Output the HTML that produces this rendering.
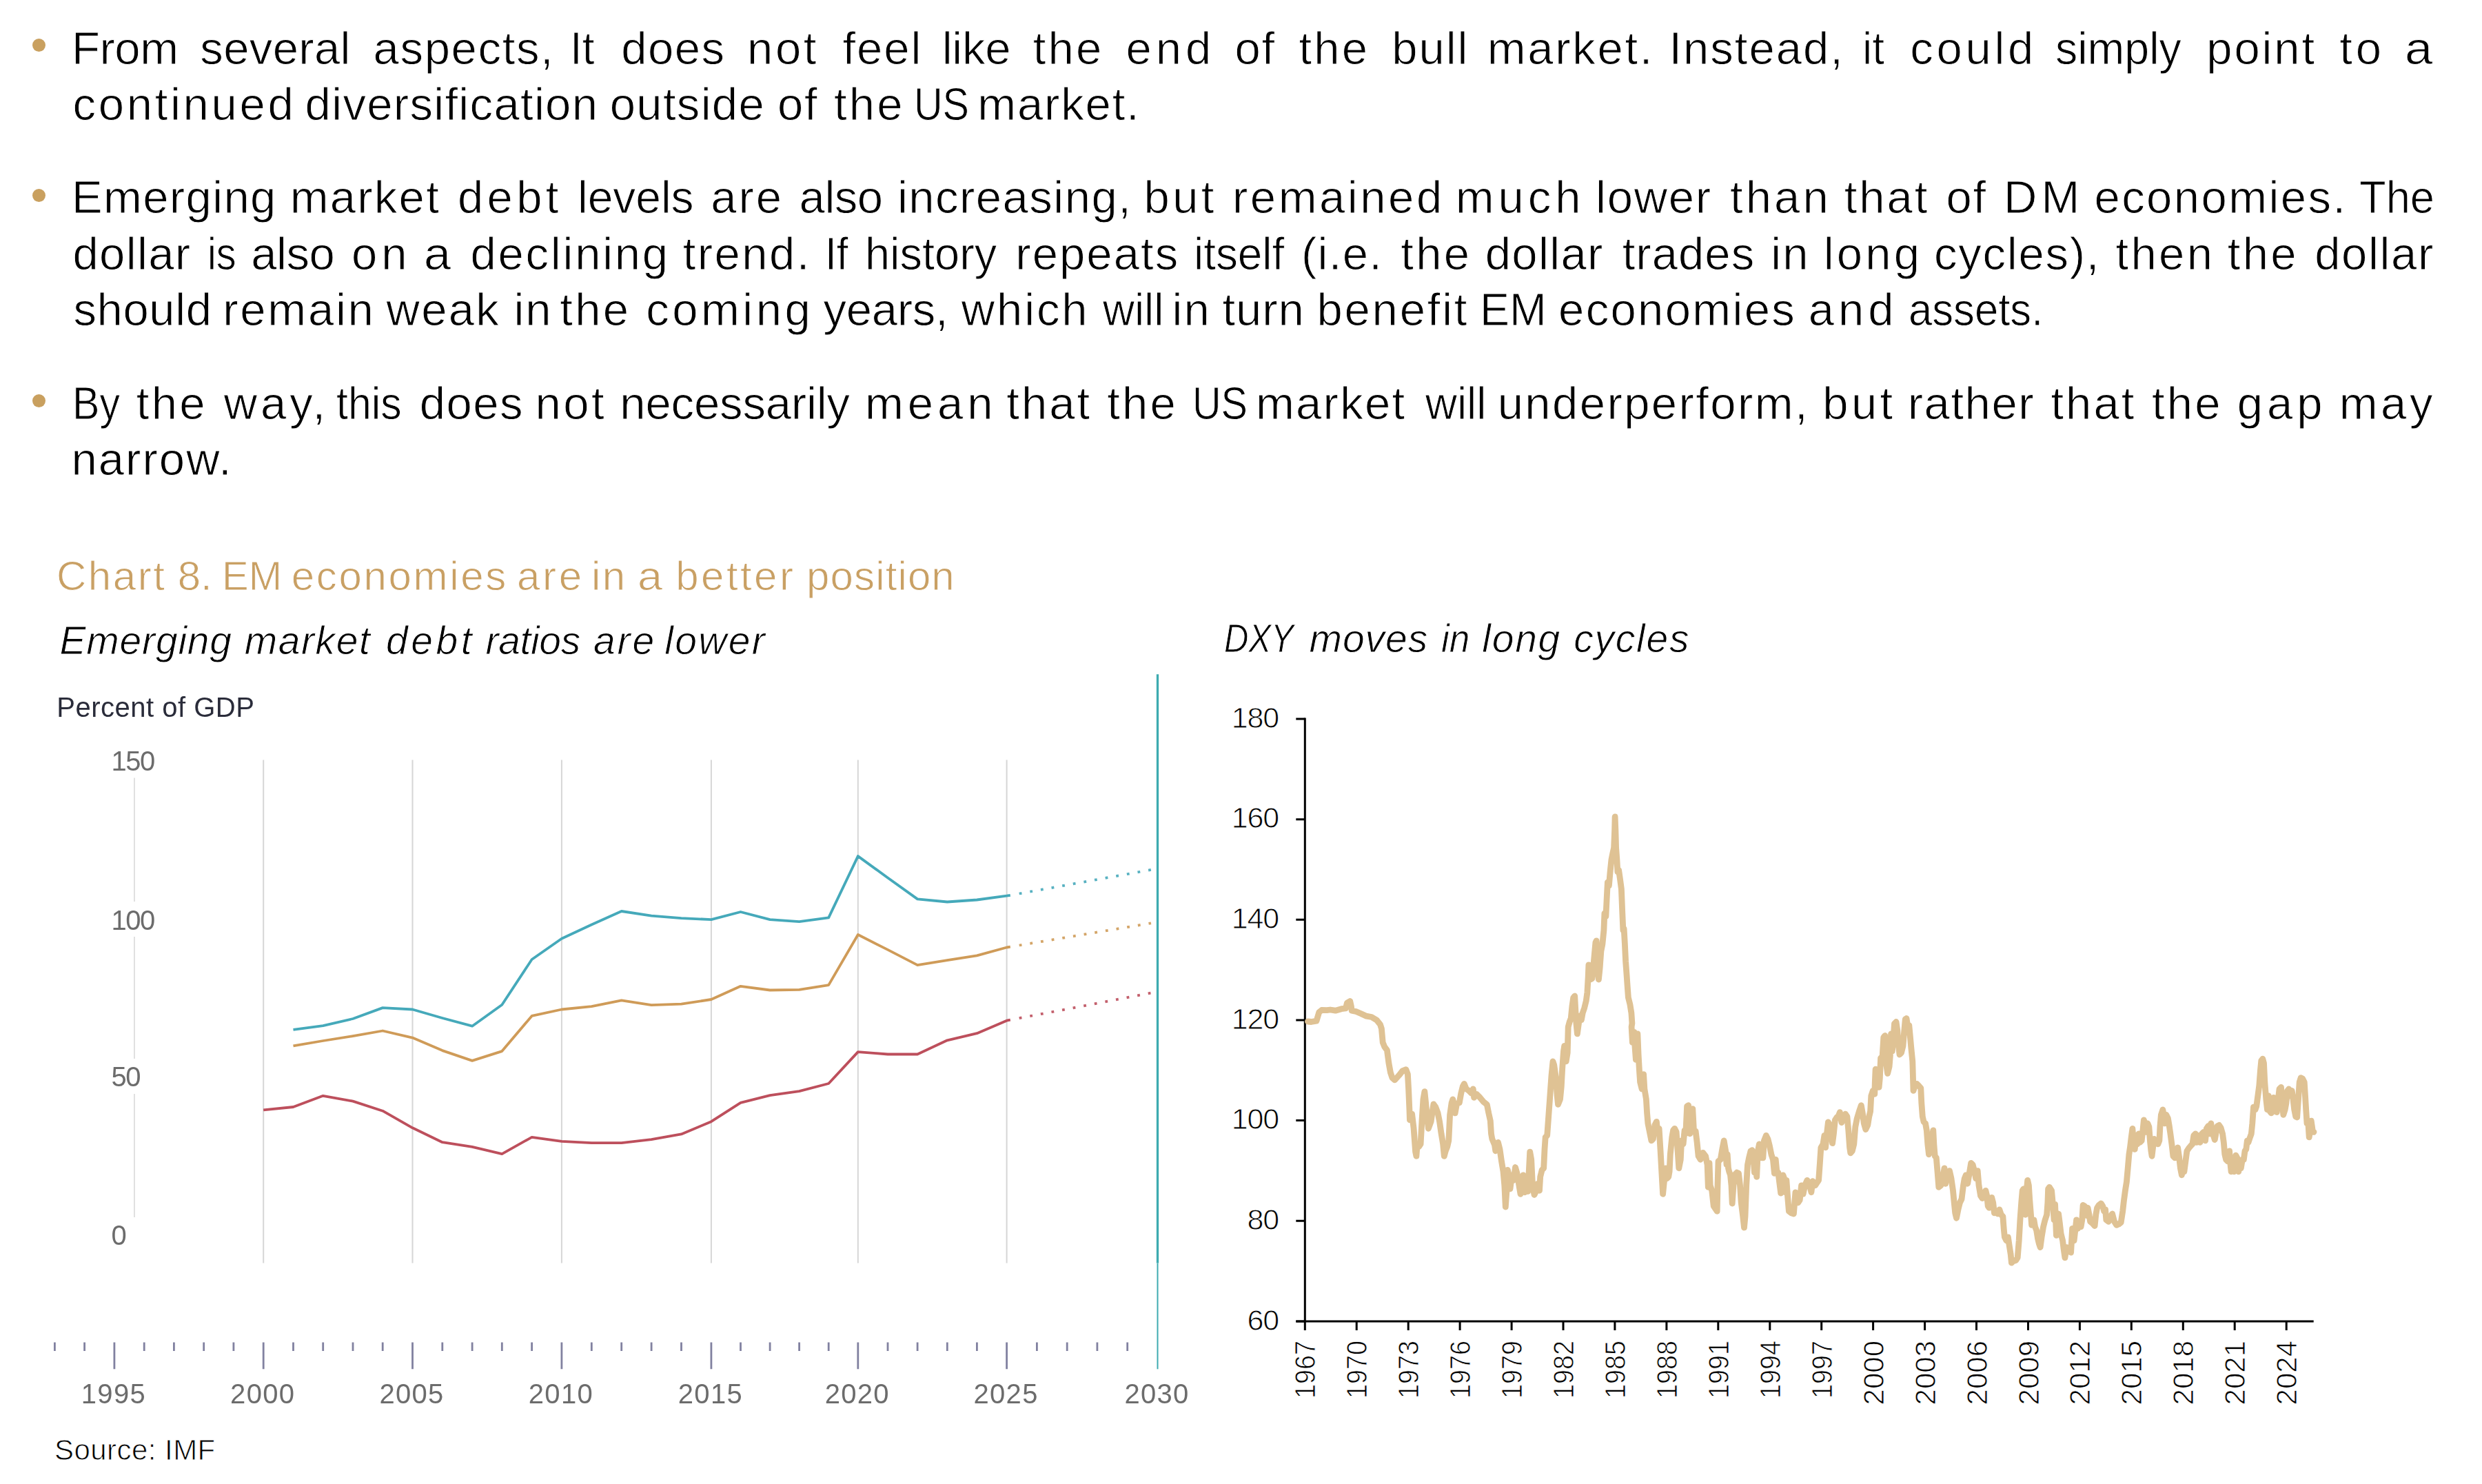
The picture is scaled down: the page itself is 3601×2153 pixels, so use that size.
<!DOCTYPE html>
<html lang="en"><head><meta charset="utf-8"><title>Chart 8. EM economies are in a better position</title>
<style>
html,body{margin:0;padding:0;background:#fff;}
body{width:3601px;height:2153px;position:relative;overflow:hidden;font-family:"Liberation Sans",Arial,Helvetica,sans-serif;}
.t{position:absolute;white-space:nowrap;margin:0;padding:0;}
.ln{position:absolute;left:0;width:3601px;height:67px;font-size:67px;line-height:67px;color:#000;white-space:pre;}
.ln span{position:absolute;top:0;transform-origin:0 50%;}
.b{position:absolute;width:19px;height:19px;border-radius:50%;background:#c9a05f;}
.body{-webkit-text-stroke:0.9px #fff;}
svg{position:absolute;left:0;top:0;}
.yl{font-size:43px;fill:#000;text-anchor:end;letter-spacing:-1.2px;stroke:#fff;stroke-width:0.9px;}
.xl{font-size:42px;fill:#000;text-anchor:end;stroke:#fff;stroke-width:0.9px;}
.gl{font-size:40px;fill:#6c6c6c;}
</style></head><body>
<div class="b" style="left:47.2px;top:55.9px"></div>
<div class="b" style="left:47.2px;top:273.5px"></div>
<div class="b" style="left:47.2px;top:572.0px"></div>
<div class="ln body" style="top:35.78px;"><span style="left:103.9px;letter-spacing:-0.41px">From </span><span style="left:290.3px;letter-spacing:0.36px">several </span><span style="left:541.6px;letter-spacing:1.65px">aspects, </span><span style="left:827.1px;transform:scaleX(0.954)">It </span><span style="left:901.3px;letter-spacing:1.47px">does </span><span style="left:1084.1px;letter-spacing:3.57px">not </span><span style="left:1222.5px;letter-spacing:1.99px">feel </span><span style="left:1366.8px;letter-spacing:-0.31px">like </span><span style="left:1498.7px;letter-spacing:3.23px">the </span><span style="left:1633.6px;letter-spacing:6.00px">end </span><span style="left:1791.5px;letter-spacing:1.75px">of </span><span style="left:1884.4px;letter-spacing:3.23px">the </span><span style="left:2019.3px;letter-spacing:1.92px">bull </span><span style="left:2157.7px;letter-spacing:2.73px">market. </span><span style="left:2421.4px;letter-spacing:2.02px">Instead, </span><span style="left:2701.9px;transform:scaleX(0.954)">it </span><span style="left:2771.2px;letter-spacing:4.74px">could </span><span style="left:2982.0px;transform:scaleX(0.963)">simply </span><span style="left:3201.3px;letter-spacing:2.86px">point </span><span style="left:3394.2px;letter-spacing:5.00px">to </span><span style="left:3488.9px;transform:scaleX(1.081)">a</span></div>
<div class="ln body" style="top:117.28px;"><span style="left:105.4px;letter-spacing:3.74px">continued </span><span style="left:442.6px;letter-spacing:1.32px">diversification </span><span style="left:884.8px;letter-spacing:1.30px">outside </span><span style="left:1128.1px;letter-spacing:1.75px">of </span><span style="left:1210.0px;letter-spacing:3.23px">the </span><span style="left:1325.6px;transform:scaleX(0.860)">US </span><span style="left:1418.3px;letter-spacing:1.84px">market.</span></div>
<div class="ln body" style="top:251.78px;"><span style="left:103.9px;letter-spacing:1.39px">Emerging </span><span style="left:420.7px;letter-spacing:2.26px">market </span><span style="left:664.0px;letter-spacing:5.33px">debt </span><span style="left:837.9px;transform:scaleX(0.984)">levels </span><span style="left:1031.2px;letter-spacing:3.00px">are </span><span style="left:1159.6px;letter-spacing:-0.46px">also </span><span style="left:1301.9px;letter-spacing:1.49px">increasing, </span><span style="left:1659.6px;letter-spacing:4.37px">but </span><span style="left:1788.0px;letter-spacing:3.55px">remained </span><span style="left:2111.8px;letter-spacing:5.94px">much </span><span style="left:2315.1px;letter-spacing:1.74px">lower </span><span style="left:2509.9px;letter-spacing:4.12px">than </span><span style="left:2675.7px;letter-spacing:3.00px">that </span><span style="left:2823.6px;letter-spacing:1.75px">of </span><span style="left:2907.1px;letter-spacing:6.00px">DM </span><span style="left:3038.5px;letter-spacing:2.43px">economies. </span><span style="left:3423.2px;transform:scaleX(0.944)">The</span></div>
<div class="ln body" style="top:333.78px;"><span style="left:105.4px;letter-spacing:1.36px">dollar </span><span style="left:301.4px;transform:scaleX(0.860)">is </span><span style="left:364.2px;letter-spacing:-0.46px">also </span><span style="left:510.1px;letter-spacing:6.00px">on </span><span style="left:614.9px;transform:scaleX(1.048)">a </span><span style="left:682.5px;letter-spacing:2.77px">declining </span><span style="left:990.7px;letter-spacing:2.49px">trend. </span><span style="left:1197.1px;transform:scaleX(0.903)">If </span><span style="left:1255.0px;transform:scaleX(0.969)">history </span><span style="left:1473.3px;letter-spacing:2.06px">repeats </span><span style="left:1731.8px;transform:scaleX(0.953)">itself </span><span style="left:1887.9px;letter-spacing:1.35px">(i.e. </span><span style="left:2032.3px;letter-spacing:3.23px">the </span><span style="left:2154.7px;letter-spacing:1.36px">dollar </span><span style="left:2353.7px;letter-spacing:1.05px">trades </span><span style="left:2569.3px;letter-spacing:1.95px">in </span><span style="left:2645.8px;letter-spacing:4.14px">long </span><span style="left:2806.1px;letter-spacing:1.75px">cycles), </span><span style="left:3069.4px;letter-spacing:3.41px">then </span><span style="left:3231.8px;letter-spacing:3.23px">the </span><span style="left:3358.2px;letter-spacing:1.65px">dollar</span></div>
<div class="ln body" style="top:415.28px;"><span style="left:106.4px;letter-spacing:0.63px">should </span><span style="left:323.2px;letter-spacing:2.78px">remain </span><span style="left:560.6px;letter-spacing:2.24px">weak </span><span style="left:745.4px;letter-spacing:1.95px">in </span><span style="left:812.3px;letter-spacing:3.23px">the </span><span style="left:937.2px;letter-spacing:4.51px">coming </span><span style="left:1194.6px;letter-spacing:-0.28px">years, </span><span style="left:1394.8px;letter-spacing:2.86px">which </span><span style="left:1599.6px;transform:scaleX(0.949)">will </span><span style="left:1700.6px;letter-spacing:1.95px">in </span><span style="left:1773.5px;letter-spacing:0.91px">turn </span><span style="left:1910.4px;letter-spacing:2.82px">benefit </span><span style="left:2146.9px;transform:scaleX(0.961)">EM </span><span style="left:2261.1px;letter-spacing:2.33px">economies </span><span style="left:2623.8px;letter-spacing:6.00px">and </span><span style="left:2768.9px;transform:scaleX(0.920)">assets.</span></div>
<div class="ln body" style="top:551.28px;"><span style="left:104.5px;transform:scaleX(0.883)">By </span><span style="left:197.8px;letter-spacing:3.23px">the </span><span style="left:324.7px;letter-spacing:4.92px">way, </span><span style="left:487.7px;transform:scaleX(0.908)">this </span><span style="left:608.8px;letter-spacing:1.47px">does </span><span style="left:776.4px;letter-spacing:3.57px">not </span><span style="left:899.3px;letter-spacing:-0.14px">necessarily </span><span style="left:1254.9px;letter-spacing:6.00px">mean </span><span style="left:1460.3px;letter-spacing:3.00px">that </span><span style="left:1606.2px;letter-spacing:3.23px">the </span><span style="left:1730.3px;transform:scaleX(0.860)">US </span><span style="left:1822.0px;letter-spacing:2.26px">market </span><span style="left:2067.7px;transform:scaleX(0.949)">will </span><span style="left:2172.7px;letter-spacing:2.42px">underperform, </span><span style="left:2644.3px;letter-spacing:4.37px">but </span><span style="left:2767.7px;letter-spacing:1.57px">rather </span><span style="left:2975.5px;letter-spacing:3.00px">that </span><span style="left:3121.9px;letter-spacing:3.23px">the </span><span style="left:3245.8px;letter-spacing:6.00px">gap </span><span style="left:3393.7px;letter-spacing:4.61px">may</span></div>
<div class="ln body" style="top:632.28px;"><span style="left:103.4px;letter-spacing:2.08px">narrow.</span></div>
<div class="ln body" style="top:806.21px;font-size:60px;line-height:60px;height:60px;color:#c9a064;"><span style="left:82.0px;letter-spacing:2.52px">Chart </span><span style="left:257.8px;letter-spacing:-0.21px">8. </span><span style="left:321.9px;transform:scaleX(0.967)">EM </span><span style="left:422.8px;letter-spacing:2.67px">economies </span><span style="left:750.0px;letter-spacing:3.67px">are </span><span style="left:857.9px;letter-spacing:2.61px">in </span><span style="left:924.6px;transform:scaleX(1.081)">a </span><span style="left:980.3px;letter-spacing:3.43px">better </span><span style="left:1170.1px;letter-spacing:1.12px">position</span></div>
<div class="ln body" style="top:900.75px;font-size:57px;line-height:57px;height:57px;color:#000;font-style:italic;"><span style="left:86.5px;letter-spacing:0.80px">Emerging </span><span style="left:354.8px;letter-spacing:1.55px">market </span><span style="left:560.1px;letter-spacing:4.49px">debt </span><span style="left:704.5px;letter-spacing:-0.34px">ratios </span><span style="left:860.9px;letter-spacing:2.93px">are </span><span style="left:964.3px;letter-spacing:2.29px">lower</span></div>
<div class="ln body" style="top:898.25px;font-size:57px;line-height:57px;height:57px;color:#000;font-style:italic;"><span style="left:1776.2px;transform:scaleX(0.860)">DXY </span><span style="left:1899.5px;letter-spacing:0.95px">moves </span><span style="left:2090.8px;transform:scaleX(0.933)">in </span><span style="left:2150.3px;letter-spacing:1.74px">long </span><span style="left:2283.2px;letter-spacing:1.79px">cycles</span></div>
<div class="t" style="left:82.30px;top:1006.14px;font-size:40px;line-height:40px;color:#2a2c3a;letter-spacing:0.500px;filter:blur(0.6px);">Percent of GDP</div>
<div class="t body" style="left:79.00px;top:2082.65px;font-size:42px;line-height:42px;color:#000;letter-spacing:0.450px;">Source: IMF</div>
<svg width="3601" height="2153" viewBox="0 0 3601 2153" font-family="Liberation Sans, Arial, sans-serif">
<defs><filter id="sb" x="-2%" y="-2%" width="104%" height="104%"><feGaussianBlur stdDeviation="0.65"/></filter></defs>
<g filter="url(#sb)">
<path d="M382.2 1102.5V1832.5 M598.5 1102.5V1832.5 M814.9 1102.5V1832.5 M1031.9 1102.5V1832.5 M1244.8 1102.5V1832.5 M1460.6 1102.5V1832.5" stroke="#d6d6d6" stroke-width="2" fill="none"/>
<path d="M195 1128.5V1308M195 1359V1536M195 1587V1766" stroke="#d9d9d9" stroke-width="1.6" fill="none"/>
<text class="gl" x="161.5" y="1118.0" letter-spacing="-1.5">150</text>
<text class="gl" x="161.5" y="1348.6" letter-spacing="-1.5">100</text>
<text class="gl" x="161.5" y="1576.3" letter-spacing="-1.5">50</text>
<text class="gl" x="161.5" y="1806.3" letter-spacing="-1.5">0</text>
<path d="M79.4 1947.5V1960 M122.6 1947.5V1960 M209.2 1947.5V1960 M252.4 1947.5V1960 M295.7 1947.5V1960 M338.9 1947.5V1960 M425.5 1947.5V1960 M468.7 1947.5V1960 M512.0 1947.5V1960 M555.2 1947.5V1960 M641.8 1947.5V1960 M685.1 1947.5V1960 M728.3 1947.5V1960 M771.6 1947.5V1960 M858.3 1947.5V1960 M901.7 1947.5V1960 M945.1 1947.5V1960 M988.5 1947.5V1960 M1074.5 1947.5V1960 M1117.1 1947.5V1960 M1159.6 1947.5V1960 M1202.2 1947.5V1960 M1288.0 1947.5V1960 M1331.1 1947.5V1960 M1374.3 1947.5V1960 M1417.4 1947.5V1960 M1504.4 1947.5V1960 M1548.2 1947.5V1960 M1591.9 1947.5V1960 M1635.7 1947.5V1960" stroke="#8181a0" stroke-width="2.8" fill="none"/>
<path d="M165.9 1947.5V1986.3 M382.2 1947.5V1986.3 M598.5 1947.5V1986.3 M814.9 1947.5V1986.3 M1031.9 1947.5V1986.3 M1244.8 1947.5V1986.3 M1460.6 1947.5V1986.3" stroke="#8181a0" stroke-width="2.8" fill="none"/>
<text class="gl" x="164.9" y="2036.3" text-anchor="middle" letter-spacing="1.3">1995</text>
<text class="gl" x="381.2" y="2036.3" text-anchor="middle" letter-spacing="1.3">2000</text>
<text class="gl" x="597.5" y="2036.3" text-anchor="middle" letter-spacing="1.3">2005</text>
<text class="gl" x="813.9" y="2036.3" text-anchor="middle" letter-spacing="1.3">2010</text>
<text class="gl" x="1030.9" y="2036.3" text-anchor="middle" letter-spacing="1.3">2015</text>
<text class="gl" x="1243.8" y="2036.3" text-anchor="middle" letter-spacing="1.3">2020</text>
<text class="gl" x="1459.6" y="2036.3" text-anchor="middle" letter-spacing="1.3">2025</text>
<text class="gl" x="1678.5" y="2036.3" text-anchor="middle" letter-spacing="1.3">2030</text>
<path d="M1679.5 978.3V1832.5" stroke="#3dabb0" stroke-width="3.3" fill="none"/>
<path d="M1679.5 1832.5V1986.3" stroke="#3dabb0" stroke-width="2" fill="none"/>
<path d="M425.5 1493.8 L468.7 1488.1 L512.0 1478.0 L555.2 1462.1 L598.5 1464.5 L641.8 1477.0 L685.1 1488.7 L728.3 1457.7 L771.6 1392.0 L814.9 1361.7 L858.3 1341.5 L901.7 1322.0 L945.1 1328.7 L988.5 1332.1 L1031.9 1334.1 L1074.5 1323.0 L1117.1 1334.1 L1159.6 1337.1 L1202.2 1331.4 L1244.8 1242.1 L1288.0 1273.5 L1331.1 1304.4 L1374.3 1308.5 L1417.4 1305.5 L1460.6 1299.7 L1465.8 1298.8" stroke="#45a9ba" stroke-width="3.8" fill="none" stroke-linejoin="round" stroke-linecap="butt"/>
<path d="M1478.7 1296.5L1670 1261.9" stroke="#45a9ba" stroke-width="3.8" stroke-dasharray="3.8 12.07" fill="none" opacity="0.9"/>
<path d="M425.5 1517.4 L468.7 1510.0 L512.0 1503.2 L555.2 1495.5 L598.5 1505.6 L641.8 1524.1 L685.1 1538.9 L728.3 1525.1 L771.6 1473.9 L814.9 1464.5 L858.3 1460.1 L901.7 1451.3 L945.1 1458.1 L988.5 1456.7 L1031.9 1450.0 L1074.5 1430.8 L1117.1 1436.5 L1159.6 1435.8 L1202.2 1429.1 L1244.8 1356.0 L1288.0 1377.9 L1331.1 1400.1 L1374.3 1393.1 L1417.4 1386.3 L1460.6 1374.5 L1465.8 1373.7" stroke="#cf9b58" stroke-width="3.8" fill="none" stroke-linejoin="round" stroke-linecap="butt"/>
<path d="M1478.7 1371.5L1670 1339.4" stroke="#cf9b58" stroke-width="3.8" stroke-dasharray="3.8 12.07" fill="none" opacity="0.9"/>
<path d="M382.2 1610.4 L425.5 1606.0 L468.7 1589.8 L512.0 1597.6 L555.2 1611.7 L598.5 1636.3 L641.8 1657.2 L685.1 1663.9 L728.3 1674.1 L771.6 1649.8 L814.9 1655.9 L858.3 1658.2 L901.7 1658.2 L945.1 1653.2 L988.5 1645.4 L1031.9 1627.2 L1074.5 1599.9 L1117.1 1589.2 L1159.6 1583.1 L1202.2 1572.0 L1244.8 1526.1 L1288.0 1529.5 L1331.1 1529.5 L1374.3 1509.3 L1417.4 1499.2 L1460.6 1480.7 L1465.8 1479.7" stroke="#bd4f5c" stroke-width="3.8" fill="none" stroke-linejoin="round" stroke-linecap="butt"/>
<path d="M1478.7 1477.2L1670 1440.6" stroke="#bd4f5c" stroke-width="3.8" stroke-dasharray="3.8 12.07" fill="none" opacity="0.9"/>
</g>
<path d="M1893.3 1041.5V1918.4M1880.3 1916.9H3356.7" stroke="#000" stroke-width="3" fill="none"/>
<path d="M1880.3 1043.0H1893.3 M1880.3 1188.7H1893.3 M1880.3 1334.3H1893.3 M1880.3 1480.0H1893.3 M1880.3 1625.6H1893.3 M1880.3 1771.2H1893.3 M1880.3 1916.9H1893.3 M1893.3 1916.9V1930 M1968.2 1916.9V1930 M2043.2 1916.9V1930 M2118.1 1916.9V1930 M2193.1 1916.9V1930 M2268.0 1916.9V1930 M2342.9 1916.9V1930 M2417.9 1916.9V1930 M2492.8 1916.9V1930 M2567.8 1916.9V1930 M2642.7 1916.9V1930 M2717.6 1916.9V1930 M2792.6 1916.9V1930 M2867.5 1916.9V1930 M2942.5 1916.9V1930 M3017.4 1916.9V1930 M3092.3 1916.9V1930 M3167.3 1916.9V1930 M3242.2 1916.9V1930 M3317.2 1916.9V1930" stroke="#000" stroke-width="3" fill="none"/>
<text class="yl" x="1855" y="1055.6">180</text>
<text class="yl" x="1855" y="1201.2">160</text>
<text class="yl" x="1855" y="1346.9">140</text>
<text class="yl" x="1855" y="1492.5">120</text>
<text class="yl" x="1855" y="1638.2">100</text>
<text class="yl" x="1855" y="1783.8">80</text>
<text class="yl" x="1855" y="1929.5">60</text>
<text class="xl" transform="translate(1908.3 1945) rotate(-90)" textLength="84" lengthAdjust="spacingAndGlyphs">1967</text>
<text class="xl" transform="translate(1983.2 1945) rotate(-90)" textLength="84" lengthAdjust="spacingAndGlyphs">1970</text>
<text class="xl" transform="translate(2058.2 1945) rotate(-90)" textLength="84" lengthAdjust="spacingAndGlyphs">1973</text>
<text class="xl" transform="translate(2133.1 1945) rotate(-90)" textLength="84" lengthAdjust="spacingAndGlyphs">1976</text>
<text class="xl" transform="translate(2208.1 1945) rotate(-90)" textLength="84" lengthAdjust="spacingAndGlyphs">1979</text>
<text class="xl" transform="translate(2283.0 1945) rotate(-90)" textLength="84" lengthAdjust="spacingAndGlyphs">1982</text>
<text class="xl" transform="translate(2357.9 1945) rotate(-90)" textLength="84" lengthAdjust="spacingAndGlyphs">1985</text>
<text class="xl" transform="translate(2432.9 1945) rotate(-90)" textLength="84" lengthAdjust="spacingAndGlyphs">1988</text>
<text class="xl" transform="translate(2507.8 1945) rotate(-90)" textLength="84" lengthAdjust="spacingAndGlyphs">1991</text>
<text class="xl" transform="translate(2582.8 1945) rotate(-90)" textLength="84" lengthAdjust="spacingAndGlyphs">1994</text>
<text class="xl" transform="translate(2657.7 1945) rotate(-90)" textLength="84" lengthAdjust="spacingAndGlyphs">1997</text>
<text class="xl" transform="translate(2732.6 1945) rotate(-90)">2000</text>
<text class="xl" transform="translate(2807.6 1945) rotate(-90)">2003</text>
<text class="xl" transform="translate(2882.5 1945) rotate(-90)">2006</text>
<text class="xl" transform="translate(2957.5 1945) rotate(-90)">2009</text>
<text class="xl" transform="translate(3032.4 1945) rotate(-90)">2012</text>
<text class="xl" transform="translate(3107.3 1945) rotate(-90)">2015</text>
<text class="xl" transform="translate(3182.3 1945) rotate(-90)">2018</text>
<text class="xl" transform="translate(3257.2 1945) rotate(-90)">2021</text>
<text class="xl" transform="translate(3332.2 1945) rotate(-90)">2024</text>
<path d="M1897.5 1482.0 L1902.5 1482.5 L1910.0 1481.2 L1913.7 1468.7 L1917.5 1465.5 L1925.0 1465.7 L1930.0 1465.0 L1937.5 1466.2 L1946.2 1463.7 L1952.4 1463.0 L1954.4 1455.0 L1958.7 1452.5 L1960.4 1460.0 L1961.2 1466.2 L1967.4 1467.5 L1974.9 1470.7 L1982.4 1474.2 L1989.9 1475.5 L1997.4 1480.0 L2002.4 1486.2 L2004.4 1492.4 L2006.2 1512.4 L2008.7 1518.7 L2012.4 1523.7 L2014.9 1542.4 L2017.4 1556.1 L2019.9 1563.6 L2023.6 1566.9 L2029.9 1559.9 L2034.9 1553.6 L2039.9 1551.7 L2042.4 1558.6 L2043.6 1579.9 L2044.9 1609.9 L2045.4 1624.8 L2048.6 1616.1 L2051.1 1637.3 L2052.4 1654.8 L2053.6 1671.1 L2054.9 1677.3 L2056.1 1662.3 L2058.6 1663.6 L2061.1 1659.8 L2062.9 1627.3 L2064.9 1594.9 L2066.9 1583.6 L2068.6 1599.9 L2070.4 1619.9 L2072.4 1637.3 L2076.1 1627.3 L2078.6 1609.9 L2079.9 1601.9 L2082.8 1606.1 L2086.1 1614.9 L2088.6 1627.3 L2091.1 1644.8 L2093.6 1659.8 L2095.3 1677.3 L2097.3 1669.8 L2099.8 1663.6 L2101.8 1654.8 L2102.8 1634.8 L2103.6 1617.4 L2106.1 1599.9 L2107.8 1594.9 L2109.8 1604.9 L2111.1 1614.9 L2113.6 1601.1 L2117.3 1599.9 L2119.8 1586.1 L2122.3 1576.1 L2124.3 1572.4 L2127.3 1579.9 L2131.1 1582.4 L2134.8 1586.1 L2137.3 1579.9 L2138.6 1592.4 L2142.3 1587.4 L2147.3 1592.4 L2152.3 1598.6 L2157.3 1602.4 L2159.8 1614.9 L2162.3 1626.1 L2163.5 1644.8 L2164.8 1652.3 L2168.5 1661.1 L2169.8 1669.8 L2173.5 1657.3 L2176.0 1667.3 L2178.5 1684.8 L2181.0 1699.8 L2182.8 1719.8 L2184.3 1751.0 L2186.0 1727.3 L2187.3 1697.3 L2189.8 1707.3 L2191.0 1724.8 L2193.5 1704.8 L2196.0 1712.3 L2198.5 1693.5 L2201.0 1702.3 L2203.5 1717.3 L2206.0 1732.3 L2208.5 1709.8 L2209.8 1704.8 L2212.3 1729.8 L2214.7 1719.8 L2216.7 1728.5 L2218.5 1694.8 L2219.7 1671.1 L2221.7 1682.3 L2223.5 1719.8 L2226.0 1733.5 L2228.5 1728.5 L2231.0 1717.3 L2233.5 1727.3 L2234.7 1707.3 L2237.2 1697.3 L2239.7 1694.8 L2241.0 1667.3 L2242.2 1649.8 L2244.7 1647.3 L2246.7 1619.9 L2248.5 1594.9 L2251.0 1559.9 L2253.0 1539.9 L2254.7 1544.9 L2257.2 1562.4 L2259.2 1589.9 L2260.5 1602.4 L2263.5 1594.9 L2265.2 1577.4 L2266.7 1549.9 L2268.5 1524.9 L2269.7 1517.4 L2272.2 1539.9 L2274.2 1527.4 L2275.2 1489.9 L2277.2 1482.5 L2279.2 1477.5 L2280.9 1460.0 L2282.7 1447.5 L2284.7 1445.0 L2286.7 1482.5 L2288.4 1499.9 L2291.2 1479.7 L2292.9 1473.5 L2294.4 1479.7 L2296.2 1469.7 L2298.7 1462.3 L2301.2 1452.3 L2302.9 1439.8 L2304.2 1417.3 L2304.9 1399.8 L2307.4 1421.0 L2309.9 1419.8 L2312.4 1394.8 L2314.9 1367.3 L2316.1 1364.8 L2317.4 1392.3 L2319.4 1421.0 L2321.1 1404.8 L2322.9 1379.8 L2324.9 1369.8 L2326.9 1349.8 L2327.9 1324.9 L2329.9 1329.9 L2331.1 1304.9 L2332.4 1279.9 L2334.4 1284.9 L2336.1 1264.9 L2337.9 1247.4 L2339.9 1237.4 L2341.6 1229.9 L2342.6 1204.9 L2343.1 1185.0 L2343.9 1204.9 L2344.6 1229.9 L2345.9 1247.4 L2346.9 1264.9 L2348.6 1262.4 L2350.4 1274.9 L2352.4 1289.9 L2353.6 1319.9 L2354.9 1349.8 L2356.1 1347.3 L2357.4 1369.8 L2358.6 1394.8 L2359.9 1412.3 L2361.1 1429.8 L2362.4 1447.3 L2364.9 1457.3 L2366.9 1469.7 L2367.9 1484.7 L2367.1 1489.9 L2368.4 1512.4 L2370.9 1497.4 L2372.1 1519.9 L2373.4 1537.4 L2375.9 1499.9 L2377.1 1529.9 L2378.4 1552.4 L2379.6 1569.9 L2382.1 1579.9 L2384.6 1558.6 L2385.9 1579.9 L2388.4 1594.9 L2389.6 1614.9 L2390.9 1629.8 L2393.4 1642.3 L2395.9 1654.8 L2398.4 1652.3 L2400.9 1632.3 L2403.4 1627.3 L2404.6 1639.8 L2407.1 1637.3 L2409.1 1669.8 L2410.9 1702.3 L2412.6 1732.3 L2414.6 1712.3 L2416.6 1694.8 L2418.3 1709.8 L2420.8 1707.3 L2422.1 1699.8 L2423.3 1674.8 L2425.8 1649.8 L2427.6 1639.8 L2429.6 1637.3 L2432.1 1642.3 L2434.1 1669.8 L2435.8 1694.8 L2438.3 1682.3 L2439.6 1654.8 L2442.1 1659.8 L2444.1 1639.8 L2445.8 1644.8 L2447.6 1604.9 L2449.6 1603.6 L2451.6 1644.8 L2453.3 1609.9 L2455.8 1608.6 L2457.6 1642.3 L2460.1 1641.1 L2462.1 1657.3 L2464.1 1677.3 L2467.1 1682.3 L2470.8 1672.3 L2474.6 1677.3 L2477.1 1689.8 L2478.3 1722.3 L2480.0 1687.3 L2481.2 1719.8 L2483.7 1727.3 L2486.2 1749.8 L2491.2 1757.3 L2492.0 1719.8 L2493.0 1684.8 L2496.2 1682.3 L2498.7 1667.4 L2501.2 1654.9 L2503.7 1669.9 L2505.0 1689.8 L2506.2 1674.8 L2507.5 1694.8 L2508.7 1699.8 L2510.5 1704.8 L2512.0 1719.8 L2513.2 1746.0 L2515.0 1719.8 L2517.5 1703.6 L2520.0 1701.1 L2522.5 1702.3 L2524.5 1719.8 L2526.2 1744.8 L2528.7 1764.8 L2530.5 1781.0 L2532.0 1764.8 L2533.7 1719.8 L2535.5 1689.8 L2537.5 1679.8 L2540.0 1669.9 L2542.0 1668.6 L2543.7 1677.3 L2545.5 1701.1 L2546.9 1687.3 L2548.7 1707.3 L2550.4 1669.9 L2552.4 1659.9 L2554.4 1662.4 L2556.2 1679.8 L2557.9 1679.8 L2559.4 1654.9 L2562.4 1647.4 L2564.9 1652.4 L2567.4 1662.4 L2569.9 1674.8 L2572.4 1682.3 L2574.4 1702.3 L2576.2 1682.3 L2577.9 1699.8 L2579.9 1701.1 L2581.9 1717.3 L2583.7 1731.1 L2585.4 1719.8 L2586.9 1704.8 L2588.7 1709.8 L2589.9 1729.8 L2591.9 1712.3 L2593.7 1737.3 L2595.4 1757.3 L2598.7 1759.8 L2602.4 1761.0 L2603.7 1744.8 L2604.9 1729.8 L2606.9 1734.8 L2608.7 1744.8 L2611.2 1741.0 L2613.6 1719.8 L2616.1 1732.3 L2618.6 1719.8 L2621.9 1712.3 L2624.9 1717.3 L2627.9 1729.8 L2629.9 1713.6 L2633.6 1719.8 L2636.1 1716.1 L2638.6 1712.3 L2640.4 1687.3 L2641.9 1664.9 L2644.9 1659.9 L2646.9 1647.4 L2648.6 1664.9 L2650.4 1644.9 L2652.4 1627.9 L2654.9 1632.4 L2656.9 1644.9 L2658.6 1658.6 L2660.4 1644.9 L2662.4 1624.9 L2664.9 1621.1 L2667.4 1618.6 L2669.4 1613.6 L2671.9 1628.6 L2674.9 1619.9 L2677.4 1616.1 L2679.9 1619.9 L2681.8 1639.9 L2683.6 1664.9 L2684.8 1672.8 L2687.3 1669.9 L2689.8 1659.9 L2691.8 1634.9 L2694.3 1622.4 L2697.3 1612.4 L2700.3 1603.6 L2702.3 1614.9 L2704.3 1629.9 L2706.8 1638.6 L2709.8 1632.4 L2711.8 1619.9 L2713.6 1612.4 L2714.8 1589.9 L2717.3 1582.4 L2719.8 1587.4 L2720.3 1569.9 L2721.1 1551.2 L2723.6 1559.9 L2726.1 1577.4 L2727.3 1564.9 L2728.6 1535.0 L2731.1 1532.5 L2732.8 1505.0 L2734.8 1502.5 L2736.8 1544.9 L2738.6 1557.4 L2741.1 1547.4 L2742.3 1532.5 L2743.6 1500.0 L2745.3 1525.0 L2746.8 1510.0 L2748.5 1485.0 L2751.0 1482.5 L2752.8 1495.0 L2754.3 1515.0 L2756.0 1530.0 L2758.5 1527.5 L2761.0 1517.5 L2762.8 1495.0 L2764.3 1478.7 L2766.0 1477.5 L2767.8 1488.7 L2769.8 1487.5 L2771.0 1500.0 L2772.8 1520.0 L2774.8 1539.9 L2776.0 1582.4 L2778.5 1574.9 L2781.0 1572.4 L2783.5 1574.9 L2786.8 1578.7 L2787.8 1599.9 L2789.3 1619.9 L2791.0 1627.4 L2793.5 1629.9 L2795.3 1639.9 L2796.8 1659.9 L2798.5 1674.8 L2801.0 1669.9 L2802.8 1649.9 L2804.8 1639.9 L2806.0 1662.4 L2807.3 1677.3 L2809.3 1679.8 L2811.0 1699.8 L2812.8 1722.3 L2816.0 1719.8 L2818.5 1709.8 L2821.0 1694.8 L2822.7 1717.3 L2824.7 1704.8 L2828.5 1698.6 L2831.0 1709.8 L2833.5 1727.3 L2835.2 1744.8 L2836.7 1759.8 L2838.5 1767.3 L2841.0 1754.8 L2843.5 1744.8 L2846.0 1739.8 L2848.5 1719.8 L2850.2 1709.8 L2852.2 1704.8 L2854.7 1717.3 L2857.2 1702.3 L2859.7 1687.3 L2862.2 1689.8 L2864.7 1699.8 L2866.7 1709.8 L2869.2 1698.6 L2871.0 1719.8 L2873.5 1734.8 L2876.0 1738.5 L2878.5 1732.3 L2880.9 1727.3 L2882.7 1734.8 L2884.2 1749.8 L2885.9 1752.3 L2887.7 1739.8 L2889.7 1737.3 L2891.7 1744.8 L2893.4 1759.8 L2895.9 1757.3 L2898.4 1761.0 L2900.9 1754.8 L2903.4 1762.3 L2905.9 1764.8 L2907.2 1782.3 L2908.4 1794.8 L2910.9 1799.8 L2913.4 1794.8 L2915.2 1807.2 L2917.2 1819.7 L2918.4 1832.2 L2920.9 1829.7 L2924.7 1828.5 L2927.2 1824.7 L2929.2 1799.8 L2930.9 1769.8 L2932.7 1744.8 L2934.2 1727.3 L2935.9 1724.8 L2937.2 1744.8 L2938.4 1762.3 L2939.7 1732.3 L2941.7 1712.3 L2943.4 1719.8 L2944.7 1739.8 L2946.7 1764.8 L2947.6 1777.3 L2950.9 1769.8 L2952.6 1779.8 L2954.6 1784.8 L2956.6 1797.3 L2958.4 1804.7 L2960.1 1809.7 L2962.1 1794.8 L2964.6 1779.8 L2967.1 1769.8 L2969.6 1762.3 L2970.9 1744.8 L2971.6 1724.8 L2973.4 1722.3 L2976.6 1727.3 L2978.4 1747.3 L2980.1 1769.8 L2981.6 1747.3 L2983.4 1792.3 L2985.1 1774.8 L2986.6 1761.0 L2988.4 1774.8 L2990.1 1789.8 L2992.6 1799.8 L2994.1 1812.2 L2995.9 1824.7 L2998.4 1809.7 L3002.1 1812.2 L3004.6 1817.2 L3006.6 1782.3 L3009.1 1799.8 L3010.9 1784.8 L3012.6 1769.8 L3014.6 1782.3 L3016.6 1776.0 L3019.1 1779.8 L3020.8 1769.8 L3022.1 1748.5 L3024.6 1749.8 L3027.1 1763.5 L3029.1 1752.3 L3030.8 1761.0 L3032.6 1772.3 L3035.8 1774.8 L3039.1 1778.5 L3040.8 1762.3 L3042.6 1752.3 L3045.1 1748.5 L3048.3 1746.0 L3050.8 1749.8 L3052.6 1757.3 L3054.6 1754.8 L3055.8 1769.8 L3059.1 1772.3 L3062.1 1764.8 L3064.6 1761.0 L3067.6 1772.3 L3070.8 1777.3 L3074.1 1776.0 L3077.2 1773.5 L3079.7 1757.3 L3081.4 1742.3 L3083.4 1727.3 L3085.4 1714.8 L3087.2 1694.8 L3088.9 1674.8 L3090.4 1664.9 L3092.2 1649.9 L3093.9 1637.4 L3095.4 1654.9 L3097.2 1667.4 L3098.9 1654.9 L3100.9 1659.9 L3102.9 1644.9 L3104.7 1657.4 L3107.2 1654.9 L3108.9 1639.9 L3110.4 1624.9 L3112.2 1629.9 L3113.9 1642.4 L3115.9 1629.9 L3117.9 1634.9 L3119.6 1657.4 L3120.9 1669.9 L3122.1 1677.3 L3123.9 1662.4 L3125.4 1652.4 L3128.4 1656.1 L3130.9 1659.9 L3132.9 1654.9 L3133.9 1634.9 L3135.4 1617.4 L3137.9 1609.9 L3139.6 1619.9 L3140.9 1629.9 L3142.9 1617.4 L3145.4 1622.4 L3147.1 1632.4 L3148.9 1644.9 L3150.9 1659.9 L3152.9 1677.3 L3155.4 1679.8 L3157.1 1669.9 L3159.6 1664.9 L3161.4 1677.3 L3163.4 1694.8 L3165.4 1704.8 L3167.1 1694.8 L3168.9 1699.8 L3170.9 1684.8 L3172.9 1669.9 L3175.4 1666.1 L3178.4 1662.4 L3180.9 1659.9 L3182.8 1647.4 L3185.3 1644.9 L3187.1 1657.4 L3189.6 1647.4 L3192.1 1657.4 L3194.6 1644.9 L3197.1 1642.4 L3199.6 1654.9 L3201.3 1637.4 L3203.8 1633.6 L3205.8 1644.9 L3207.8 1629.9 L3209.6 1642.4 L3211.3 1647.4 L3213.3 1653.6 L3215.3 1642.4 L3217.1 1633.6 L3219.6 1632.4 L3222.1 1636.1 L3224.6 1644.9 L3226.3 1657.4 L3227.8 1674.8 L3229.6 1682.3 L3232.1 1684.8 L3234.6 1669.9 L3235.8 1687.3 L3237.1 1699.8 L3239.6 1684.8 L3241.3 1699.8 L3243.8 1676.1 L3245.8 1679.8 L3247.8 1699.8 L3249.5 1689.8 L3251.3 1694.8 L3253.3 1682.3 L3255.3 1682.3 L3257.0 1669.9 L3258.8 1667.4 L3260.3 1654.9 L3262.0 1657.4 L3264.5 1649.9 L3266.3 1644.9 L3267.8 1629.9 L3269.5 1606.1 L3272.0 1609.9 L3273.8 1604.9 L3275.8 1589.9 L3277.8 1574.9 L3279.5 1552.4 L3280.8 1538.7 L3282.8 1536.2 L3284.5 1542.4 L3285.8 1569.9 L3287.8 1594.9 L3289.5 1609.9 L3291.3 1589.9 L3293.3 1612.4 L3295.3 1614.9 L3297.0 1594.9 L3298.8 1592.4 L3300.8 1612.4 L3303.3 1613.6 L3305.3 1594.9 L3307.0 1579.9 L3309.5 1577.4 L3311.3 1599.9 L3312.8 1617.4 L3315.2 1609.9 L3317.0 1599.9 L3318.7 1582.4 L3320.7 1579.9 L3323.2 1589.9 L3325.2 1582.4 L3327.0 1594.9 L3328.7 1609.9 L3330.7 1619.9 L3332.7 1621.1 L3334.5 1594.9 L3336.2 1569.9 L3338.2 1563.7 L3340.7 1564.9 L3343.2 1569.9 L3344.5 1589.9 L3345.7 1609.9 L3347.0 1629.9 L3348.7 1627.4 L3350.2 1649.9 L3352.0 1637.4 L3353.2 1626.1 L3355.2 1639.9 L3357.0 1642.4" stroke="#dfc294" stroke-width="8.8" fill="none" stroke-linejoin="round" stroke-linecap="round"/>
</svg>
</body></html>
